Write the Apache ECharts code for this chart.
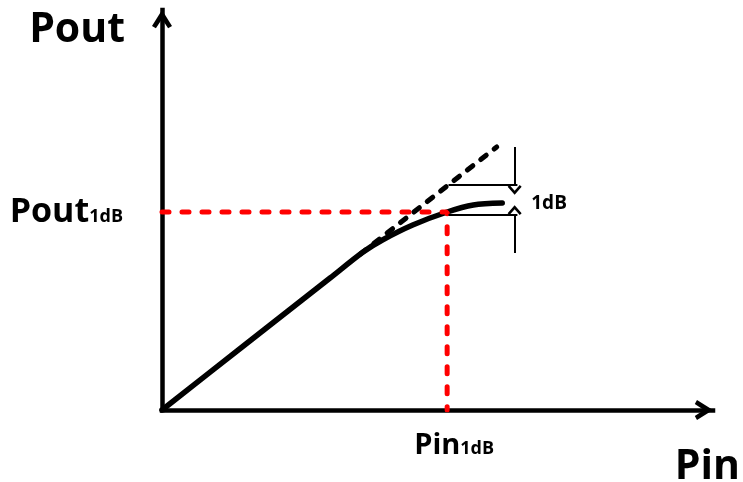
<!DOCTYPE html>
<html>
<head>
<meta charset="utf-8">
<script src="https://cdn.jsdelivr.net/npm/echarts@6/dist/echarts.min.js"></script>
<style>
  html, body { margin: 0; padding: 0; background: #fff; }
  #chart { width: 743px; height: 482px; }
</style>
</head>
<body>
<div id="chart"></div>
<script>
// Amplifier transfer curve: output power against input power (dB scale, arbitrary units)
const pinValues  = [0, 3.0, 6.1, 7.3, 8.0, 9.1, 10.35, 11.3, 12.35];
const poutValues = [0, 3.25, 6.6, 7.9, 8.5, 9.25, 9.9, 10.25, 10.35];

// Extension of the small-signal (linear gain) line
const linearPin  = [7.2, 12.15];
const linearPout = [7.8, 13.15];

// 1 dB compression point
const pin1dB  = 10.35;
const pout1dB = 9.9;

// Bracket showing the 1 dB gap between ideal and real output
const gapLevels     = [11.25, 9.75];  // ideal level, real level
const gapSpan       = [10.4, 12.9];   // horizontal extent of the bracket lines
const gapArrowX     = 12.8;
const gapArrowTails = [13.15, 7.85];  // where each arrow starts
const gapLabelPos   = [14.05, 10.3];
const gapLabel      = '1dB';

// Axis titles and compression-point labels
const xTitle = 'Pin';
const yTitle = 'Pout';
const pinLabel  = ['Pin', '1dB'];
const poutLabel = ['Pout', '1dB'];

const FONT = "'Open Sans', sans-serif";

// Open chevron arrowheads (pointing up in local space)
const axisArrow = 'path://M10 0 L20 16 L16.1 18.2 L10 9.1 L3.9 18.2 L0 16 Z';
// thin chevron whose tip sits at the centre of its bounding box
const thinArrow = 'path://M7 0 L14 8 L12.12 9.65 L7 3.8 L1.88 9.65 L0 8 Z M7 19.3 L7.01 19.3 L7 19.28 Z';

const zip = (xs, ys) => xs.map((x, i) => [x, ys[i]]);

const chart = echarts.init(document.getElementById('chart'), null, { renderer: 'canvas' });

const axisLine = {
  show: true,
  onZero: false,
  lineStyle: { color: '#000', width: 4.5, cap: 'square' },
  symbol: ['none', axisArrow],
  symbolSize: [20, 18.2],
  symbolOffset: [0, -9.1]
};

chart.setOption({
  animation: false,
  textStyle: { fontFamily: FONT, color: '#000' },
  grid: { left: 162, right: 30, top: 10, bottom: 72, containLabel: false, outerBoundsMode: 'none' },
  xAxis: {
    type: 'value',
    min: 0,
    max: 20,
    splitLine: { show: false },
    axisTick: { show: false },
    axisLine: axisLine,
    axisLabel: {
      customValues: [pin1dB],
      margin: 21,
      padding: [0, 0, 0, 14],
      formatter: () => '{main|' + pinLabel[0] + '}{sub|' + pinLabel[1] + '}',
      rich: {
        main: { fontSize: 29, fontWeight: 'bold', fontFamily: FONT, color: '#000' },
        sub:  { fontSize: 18, fontWeight: 'bold', fontFamily: FONT, color: '#000',
                verticalAlign: 'bottom', padding: [0, 0, 2, 0] }
      }
    },
    name: xTitle,
    nameLocation: 'end',
    nameGap: 30,
    nameTextStyle: {
      fontSize: 41, fontWeight: 'bold', fontFamily: FONT, color: '#000',
      align: 'right', verticalAlign: 'top', padding: [37, 3, 0, 0]
    }
  },
  yAxis: {
    type: 'value',
    min: 0,
    max: 20,
    splitLine: { show: false },
    axisTick: { show: false },
    axisLine: axisLine,
    axisLabel: {
      customValues: [pout1dB],
      margin: 39,
      formatter: () => '{main|' + poutLabel[0] + '}{sub|' + poutLabel[1] + '}',
      rich: {
        main: { fontSize: 34, fontWeight: 'bold', fontFamily: FONT, color: '#000' },
        sub:  { fontSize: 18, fontWeight: 'bold', fontFamily: FONT, color: '#000',
                verticalAlign: 'bottom', padding: [0, 0, 3, 0] }
      }
    },
    name: yTitle,
    nameLocation: 'end',
    nameGap: 0,
    nameTextStyle: {
      fontSize: 41, fontWeight: 'bold', fontFamily: FONT, color: '#000',
      align: 'right', verticalAlign: 'top', padding: [0, 37, 0, 0]
    }
  },
  series: [
    {
      // measured transfer curve
      type: 'line',
      data: zip(pinValues, poutValues),
      smooth: 0.3,
      symbol: 'none',
      silent: true,
      lineStyle: { color: '#000', width: 5.5, cap: 'round', join: 'round' },
      z: 3
    },
    {
      // ideal linear-gain extension
      type: 'line',
      data: zip(linearPin, linearPout),
      symbol: 'none',
      silent: true,
      lineStyle: { color: '#000', width: 5, type: [7, 10], cap: 'round' },
      z: 3
    },
    {
      // guides to the 1 dB compression point
      type: 'line',
      data: [[0, pout1dB], [pin1dB, pout1dB], [pin1dB, 0]],
      symbol: 'none',
      silent: true,
      lineStyle: { color: '#ff0000', width: 5, type: [7, 13], cap: 'round' },
      z: 4
    },
    {
      // 1 dB gap bracket and its label
      type: 'line',
      data: [],
      symbol: 'none',
      silent: true,
      z: 5,
      markLine: {
        silent: true,
        animation: false,
        symbolSize: [14, 19.3],
        label: { show: false },
        emphasis: { disabled: true },
        lineStyle: { color: '#000', width: 2, type: 'solid' },
        data: [
          [{ coord: [gapSpan[0], gapLevels[0]], symbol: 'none' },
           { coord: [gapSpan[1], gapLevels[0]], symbol: 'none' }],
          [{ coord: [gapSpan[0], gapLevels[1]], symbol: 'none' },
           { coord: [gapSpan[1], gapLevels[1]], symbol: 'none' }],
          [{ coord: [gapArrowX, gapArrowTails[0]], symbol: 'none' },
           { coord: [gapArrowX, gapLevels[0]], symbol: thinArrow }],
          [{ coord: [gapArrowX, gapArrowTails[1]], symbol: 'none' },
           { coord: [gapArrowX, gapLevels[1]], symbol: thinArrow }]
        ]
      },
      markPoint: {
        silent: true,
        animation: false,
        symbol: 'circle',
        symbolSize: 0,
        label: {
          show: true,
          position: 'inside',
          formatter: gapLabel,
          fontSize: 19,
          fontWeight: 'bold',
          fontFamily: FONT,
          color: '#000'
        },
        data: [{ coord: gapLabelPos }]
      }
    }
  ]
});
</script>
</body>
</html>
